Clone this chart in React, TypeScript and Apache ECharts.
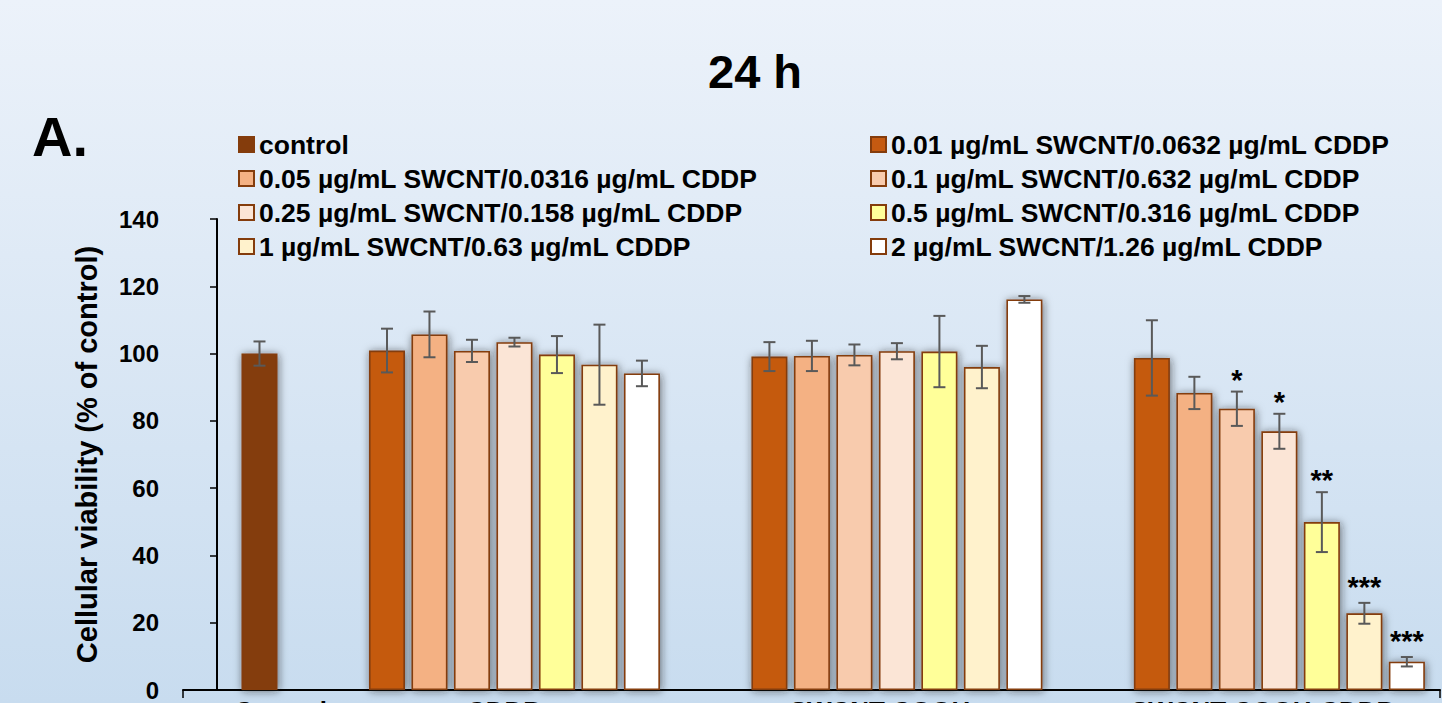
import React, { useEffect, useRef } from "react";
import * as echarts from "echarts";

// ---- data ----
const seriesNames = [
  "control",
  "0.01 µg/mL SWCNT/0.0632 µg/mL CDDP",
  "0.05 µg/mL SWCNT/0.0316 µg/mL CDDP",
  "0.1 µg/mL SWCNT/0.632 µg/mL CDDP",
  "0.25 µg/mL SWCNT/0.158 µg/mL CDDP",
  "0.5 µg/mL SWCNT/0.316 µg/mL CDDP",
  "1 µg/mL SWCNT/0.63 µg/mL CDDP",
  "2 µg/mL SWCNT/1.26 µg/mL CDDP",
];
const groupNames = ["Control", "CDDP", "SWCNT-COOH", "SWCNT-COOH-CDDP"];

const controlMean = [100.0];
const controlSD = [3.6];
const cddpMean = [100.9, 105.7, 100.8, 103.4, 99.7, 96.7, 94.1];
const cddpSD = [6.5, 6.8, 3.3, 1.3, 5.5, 11.9, 3.8];
const swcntMean = [99.1, 99.3, 99.6, 100.7, 100.6, 96.0, 116.1];
const swcntSD = [4.3, 4.5, 3.1, 2.4, 10.6, 6.3, 1.0];
const comboMean = [98.7, 88.3, 83.6, 76.9, 49.9, 22.8, 8.4];
const comboSD = [11.2, 4.8, 5.1, 5.2, 8.9, 3.1, 1.4];
const comboSig = ["", "", "*", "*", "**", "***", "***"];
const yTicks = [0, 20, 40, 60, 80, 100, 120, 140];

// ---- layout (slot positions on the x axis) ----
const groupFirstSlot = [1, 4, 13, 22];
const groupLabelAt = [1.5, 6.75, 15.6, 24.6];
const xMin = -0.8;
const xMax = 28.78;

const colors = [
  "#843C0C",
  "#C55A11",
  "#F4B183",
  "#F8CBAD",
  "#FBE5D6",
  "#FFFF99",
  "#FFF2CC",
  "#FFFFFF",
];
const FONT = '"Liberation Sans", Arial, Helvetica, sans-serif';

export default function App() {
  const ref = useRef<HTMLDivElement>(null);
  useEffect(() => {
    if (!ref.current) return;
    const chart = echarts.init(ref.current, undefined, { renderer: "svg" });

    const concGroups = [
      { mean: cddpMean, sd: cddpSD, sig: [] as string[], g: 1 },
      { mean: swcntMean, sd: swcntSD, sig: [] as string[], g: 2 },
      { mean: comboMean, sd: comboSD, sig: comboSig, g: 3 },
    ];

    const barSeries: any[] = seriesNames.map((name, i) => {
      let data: any[] = [];
      if (i === 0) {
        data = controlMean.map((v) => [groupFirstSlot[0], v]);
      } else {
        data = concGroups.map((grp) => [groupFirstSlot[grp.g] + (i - 1), grp.mean[i - 1]]);
      }
      return {
        name,
        type: "bar",
        data,
        barWidth: 36,
        barGap: "-100%",
        itemStyle: {
          color: colors[i],
          borderColor: "#843C0C",
          borderWidth: 1.6,
          shadowBlur: 9,
          shadowColor: "rgba(30,30,30,0.6)",
          shadowOffsetX: 1,
          shadowOffsetY: 1,
        },
        emphasis: { disabled: true },
        z: 2,
      };
    });

    const errData: any[] = [];
    controlMean.forEach((v, k) => errData.push([groupFirstSlot[0], v, controlSD[k], ""]));
    concGroups.forEach((grp) => {
      grp.mean.forEach((v, j) => {
        errData.push([groupFirstSlot[grp.g] + j, v, grp.sd[j], grp.sig[j] || ""]);
      });
    });

    const errSeries = {
      type: "custom",
      data: errData,
      z: 5,
      silent: true,
      renderItem: (params: any, api: any) => {
        const x = api.value(0);
        const m = api.value(1);
        const s = api.value(2);
        const sig = errData[params.dataIndex][3];
        const top = api.coord([x, m + s]);
        const bot = api.coord([x, m - s]);
        const cap = 6;
        const st = { stroke: "#595959", lineWidth: 2 };
        const children: any[] = [
          { type: "line", shape: { x1: top[0], y1: top[1], x2: bot[0], y2: bot[1] }, style: st },
          { type: "line", shape: { x1: top[0] - cap, y1: top[1], x2: top[0] + cap, y2: top[1] }, style: st },
          { type: "line", shape: { x1: bot[0] - cap, y1: bot[1], x2: bot[0] + cap, y2: bot[1] }, style: st },
        ];
        if (sig) {
          children.push({
            type: "text",
            style: {
              text: sig,
              x: top[0],
              y: top[1] - (sig.length > 2 ? 16 : 12),
              align: "center",
              textAlign: "center",
              verticalAlign: "middle",
              textVerticalAlign: "middle",
              font: `bold 29px ${FONT}`,
              fill: "#000",
            },
          });
        }
        return { type: "group", children };
      },
    };

    const legendCommon = {
      orient: "vertical",
      icon: "rect",
      itemWidth: 15,
      itemHeight: 15,
      itemGap: 7,
      padding: 0,
      selectedMode: false,
      itemStyle: { shadowBlur: 0, shadowColor: "rgba(0,0,0,0)" },
      textStyle: { fontSize: 26.5, fontWeight: "bold", color: "#000", fontFamily: FONT },
    };

    chart.setOption({
      animation: false,
      backgroundColor: {
        type: "linear",
        x: 0,
        y: 0,
        x2: 0,
        y2: 1,
        colorStops: [
          { offset: 0, color: "#ECF2FA" },
          { offset: 1, color: "#C8DCEF" },
        ],
      },
      title: {
        text: "24 h",
        left: 708,
        top: 48,
        padding: 0,
        textStyle: { fontSize: 47, fontWeight: "bold", color: "#000", fontFamily: FONT },
      },
      graphic: [
        {
          type: "text",
          left: 32,
          top: 108,
          style: { text: "A.", font: `bold 56px ${FONT}`, fill: "#000" },
        },
      ],
      legend: [
        { ...legendCommon, left: 238, top: 131, data: [0, 2, 4, 6].map((i) => seriesNames[i]) },
        { ...legendCommon, left: 870, top: 131, data: [1, 3, 5, 7].map((i) => seriesNames[i]) },
      ],
      grid: {
        left: 183,
        right: 2,
        top: 219,
        bottom: 13,
        containLabel: false,
        outerBoundsMode: "none",
      },
      xAxis: {
        type: "value",
        min: xMin,
        max: xMax,
        axisLine: { show: true, lineStyle: { color: "#000", width: 2 } },
        axisTick: { show: true, customValues: [xMin, xMax], length: 8, lineStyle: { color: "#000", width: 1.5 } },
        splitLine: { show: false },
        axisLabel: {
          customValues: groupLabelAt,
          formatter: (v: number) => {
            const idx = groupLabelAt.findIndex((p) => Math.abs(p - v) < 1e-6);
            return idx >= 0 ? groupNames[idx] : "";
          },
          margin: 8,
          fontSize: 26,
          fontWeight: "bold",
          color: "#000",
          fontFamily: FONT,
        },
      },
      yAxis: {
        type: "value",
        min: yTicks[0],
        max: yTicks[yTicks.length - 1],
        interval: 20,
        name: "Cellular viability (% of control)",
        nameLocation: "middle",
        nameGap: 82,
        nameTextStyle: { fontSize: 29, fontWeight: "bold", color: "#000", fontFamily: FONT },
        axisLine: { show: true, lineStyle: { color: "#000", width: 2 } },
        axisTick: { show: true, length: 7, lineStyle: { color: "#000", width: 1.5 } },
        splitLine: { show: false },
        axisLabel: { margin: 24, fontSize: 24, fontWeight: "bold", color: "#000", fontFamily: FONT },
      },
      series: [...barSeries, errSeries],
    });

    return () => chart.dispose();
  }, []);

  return (
    <div
      ref={ref}
      style={{ position: "fixed", left: 0, top: 0, width: 1442, height: 703 }}
    />
  );
}
